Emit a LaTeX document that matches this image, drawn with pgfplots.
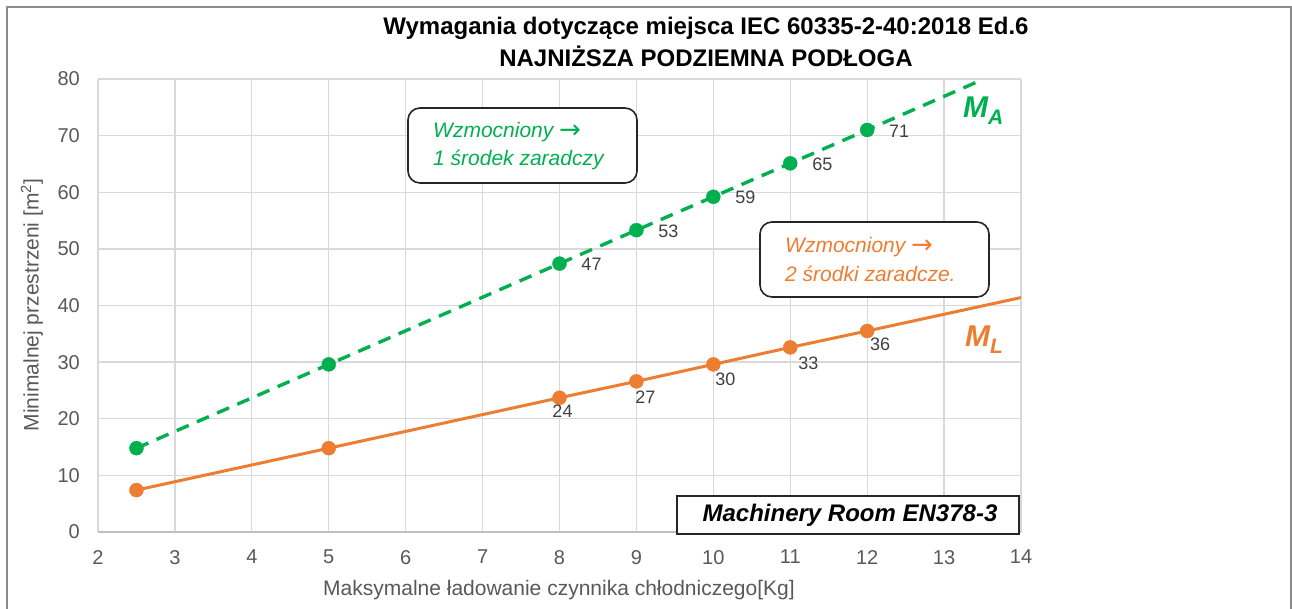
\documentclass[border=0pt]{standalone}
\usepackage{fontspec}
\setmainfont{Liberation Sans}
\newfontfamily\dejavu{DejaVu Sans}
\usepackage{pgfplots}
\pgfplotsset{compat=1.18}
\usepackage{pgfplotstable}
\definecolor{cgreen}{HTML}{00B050}
\definecolor{corange}{HTML}{ED7D31}
\definecolor{cgrid}{HTML}{D9D9D9}
\definecolor{caxis}{HTML}{BFBFBF}
\definecolor{ctick}{HTML}{595959}
\definecolor{clab}{HTML}{404040}
\definecolor{cborder}{HTML}{8C8C8C}
\definecolor{cbox}{HTML}{262626}

\pgfplotstableread{
x y
2.5 14.8
5 29.6
8 47.4
9 53.3
10 59.2
11 65.1
12 71.0
13.5 79.9
}\greenline
\pgfplotstableread{
x y
2.5 14.8
5 29.6
}\greenunl
\pgfplotstableread{
x y l dx dy
8 47.4 47 32 -1
9 53.3 53 32 -1
10 59.2 59 32 -1
11 65.1 65 32 -1
12 71.0 71 32 -1
}\greenlab
\pgfplotstableread{
x y
2.5 7.4
5 14.8
8 23.7
9 26.6
10 29.6
11 32.6
12 35.5
14 41.4
}\orangeline
\pgfplotstableread{
x y
2.5 7.4
5 14.8
}\orangeunl
\pgfplotstableread{
x y l dx dy
8 23.7 24 3 -13
9 26.6 27 9 -16
10 29.6 30 12 -15
11 32.6 33 18 -16
12 35.5 36 13 -13
}\orangelab

\newcommand{\arr}{{\dejavu\upshape\fontsize{26}{26}\selectfont\raisebox{-1pt}{→}}}

\begin{document}
\begin{tikzpicture}[x=1pt,y=1pt]
\useasboundingbox (0,0) rectangle (1292,609);
\fill[white] (0,0) rectangle (1292,609);
\draw[cborder, line width=1.5pt] (7,0) -- (7,602) -- (1291,602) -- (1291,0);
\begin{axis}[
  at={(98pt,77pt)}, anchor=south west,
  scale only axis, width=923pt, height=453pt,
  xmin=2, xmax=14, ymin=0, ymax=80,
  xtick={2,3,...,14}, ytick={0,10,...,80},
  grid=major,
  major grid style={cgrid, line width=1.3pt},
  axis line style={draw=none},
  major tick length=0pt,
  tick style={draw=none},
  /pgf/number format/assume math mode=true,
  ticklabel style={text=ctick, font=\fontsize{20}{24}\selectfont, inner sep=0pt},
  yticklabel style={anchor=east, xshift=-18pt},
  xticklabel style={anchor=north, yshift=-18pt},
  clip=false,
]
\draw[caxis, line width=1.5pt] (rel axis cs:0,0) -- (rel axis cs:1,0);
% green series
\addplot[cgreen, line width=3.4pt, dash pattern=on 13pt off 9pt, no marks] table {\greenline};
\addplot[only marks, mark=*, mark size=7pt, mark options={fill=cgreen, draw=cgreen, solid}] table {\greenunl};
\addplot[only marks, mark=*, mark size=7pt, mark options={fill=cgreen, draw=cgreen, solid},
  point meta=explicit symbolic,
  visualization depends on={\thisrow{dx}\as\dx},
  visualization depends on={\thisrow{dy}\as\dy},
  nodes near coords,
  nodes near coords style={anchor=center, inner sep=0pt, xshift={\dx*1pt}, yshift={\dy*1pt}, text=clab, font=\fontsize{18}{21}\selectfont}
] table[meta=l] {\greenlab};
% orange series
\addplot[corange, line width=3pt, no marks] table {\orangeline};
\addplot[only marks, mark=*, mark size=7pt, mark options={fill=corange, draw=corange}] table {\orangeunl};
\addplot[only marks, mark=*, mark size=7pt, mark options={fill=corange, draw=corange},
  point meta=explicit symbolic,
  visualization depends on={\thisrow{dx}\as\dx},
  visualization depends on={\thisrow{dy}\as\dy},
  nodes near coords,
  nodes near coords style={anchor=center, inner sep=0pt, xshift={\dx*1pt}, yshift={\dy*1pt}, text=clab, font=\fontsize{18}{21}\selectfont}
] table[meta=l] {\orangelab};
\end{axis}
% title
\node[font=\fontsize{24}{28}\selectfont\bfseries] at (706,581) {Wymagania dotyczące miejsca IEC 60335-2-40:2018 Ed.6};
\node[font=\fontsize{24}{28}\selectfont\bfseries] at (706,553) {NAJNIŻSZA PODZIEMNA PODŁOGA};
% axis labels
\node[text=ctick, font=\fontsize{21}{25}\selectfont] at (559,19) {Maksymalne ładowanie czynnika chłodniczego[Kg]};
\node[text=ctick, font=\fontsize{21}{25}\selectfont, rotate=90] at (32,304) {Minimalnej przestrzeni [m\textsuperscript{2}]};
% green box
\draw[cbox, fill=white, line width=1.6pt, rounded corners=12pt] (408,501) rectangle (637,426);
\node[anchor=west, inner sep=0pt, text=cgreen, font=\fontsize{21}{25}\selectfont\itshape] at (433,477) {Wzmocniony \arr};
\node[anchor=west, inner sep=0pt, text=cgreen, font=\fontsize{21}{25}\selectfont\itshape] at (433,449) {1 środek zaradczy};
% orange box
\draw[cbox, fill=white, line width=1.6pt, rounded corners=12pt] (760,387) rectangle (989,312);
\node[anchor=west, inner sep=0pt, text=corange, font=\fontsize{21}{25}\selectfont\itshape] at (785,362) {Wzmocniony \arr};
\node[anchor=west, inner sep=0pt, text=corange, font=\fontsize{21}{25}\selectfont\itshape] at (785,335) {2 środki zaradcze.};
% machinery box
\draw[cbox, fill=white, line width=2pt] (677,113) rectangle (1019,75);
\node[font=\fontsize{24}{28}\selectfont\bfseries\itshape] at (850,94) {Machinery Room EN378-3};
% series names
\node[anchor=base west, inner sep=0pt, text=cgreen, font=\fontsize{30}{34}\selectfont\bfseries\itshape] at (963,491) {M\raisebox{-7pt}{\fontsize{21}{24}\selectfont A}};
\node[anchor=base west, inner sep=0pt, text=corange, font=\fontsize{30}{34}\selectfont\bfseries\itshape] at (965,262) {M\raisebox{-7pt}{\fontsize{21}{24}\selectfont L}};
\end{tikzpicture}
\end{document}
